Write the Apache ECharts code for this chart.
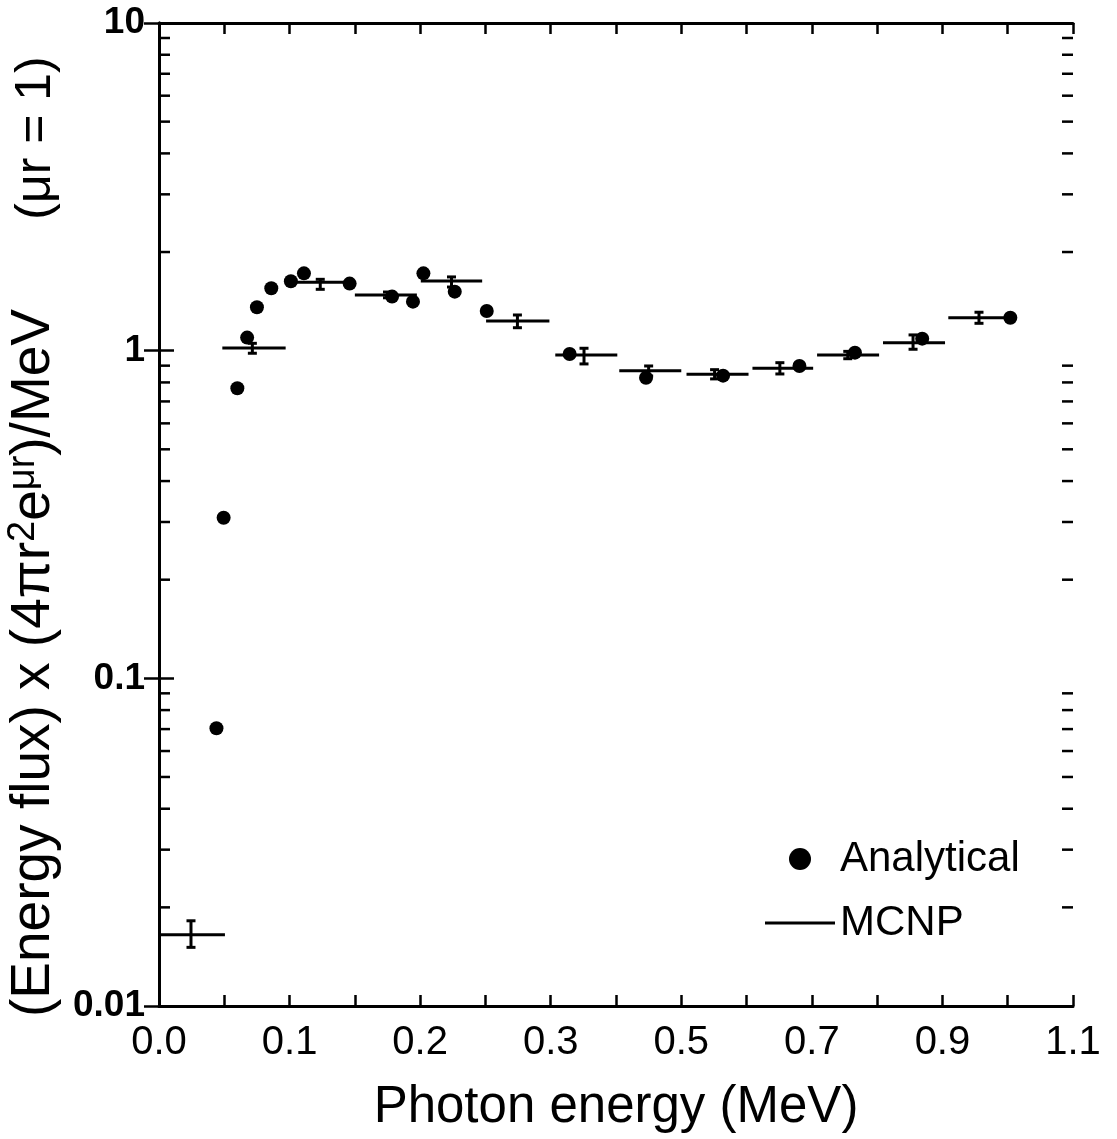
<!DOCTYPE html>
<html>
<head>
<meta charset="utf-8">
<script src="https://cdn.jsdelivr.net/npm/echarts@6/dist/echarts.min.js"></script>
<style>
    html, body { margin: 0; padding: 0; background: #fff; }
    #chart { width: 1117px; height: 1139px; }
</style>
</head>
<body>
<div id="chart"></div>
<script>
// x is in axis units: one tick = 0.1, labels every 2 ticks (as printed on the figure)
var xTickLabels = ['0.0', '0.1', '0.2', '0.3', '0.5', '0.7', '0.9', '1.1'];
var yTickLabels = ['0.01', '0.1', '1', '10'];
var yMinorMult = [2, 3, 4, 5, 6, 7, 8, 9];
var yDecades = [0.01, 0.1, 1];

// Analytical (dots)
var anaX = [0.088, 0.099, 0.120, 0.135, 0.150, 0.172, 0.202, 0.222, 0.292, 0.357, 0.389,
            0.405, 0.453, 0.502, 0.629, 0.746, 0.864, 0.981, 1.066, 1.169, 1.304];
var anaY = [0.0704, 0.309, 0.768, 1.096, 1.357, 1.55, 1.628, 1.722, 1.602, 1.462, 1.411,
            1.722, 1.514, 1.322, 0.977, 0.827, 0.839, 0.898, 0.986, 1.088, 1.26];

// MCNP (bins with error bars)
var binLo = [0.000, 0.097, 0.210, 0.300, 0.401, 0.501, 0.607, 0.705, 0.808, 0.909, 1.008, 1.109, 1.209];
var binHi = [0.101, 0.194, 0.295, 0.395, 0.495, 0.598, 0.702, 0.800, 0.903, 1.002, 1.103, 1.204, 1.301];
var mcnpY = [0.0165, 1.019, 1.617, 1.479, 1.632, 1.232, 0.970, 0.869, 0.847, 0.884, 0.970, 1.058, 1.261];
var errX  = [0.049, 0.143, 0.247, 0.350, 0.448, 0.549, 0.651, 0.750, 0.851, 0.951, 1.055, 1.155, 1.256];
var errLo = [0.0151, 0.982, 1.539, 1.45, 1.564, 1.175, 0.911, 0.837, 0.82, 0.849, 0.945, 1.010, 1.212];
var errHi = [0.0182, 1.053, 1.651, 1.51, 1.679, 1.285, 1.017, 0.898, 0.875, 0.919, 0.995, 1.117, 1.310];

var X_MIN = 0, X_MAX = 1.4;
var FONT = 'Liberation Sans';

var anaData = anaX.map(function (x, i) { return [x, anaY[i]]; });

// horizontal bin lines, broken between bins
var mcnpLine = [];
binLo.forEach(function (lo, i) {
    mcnpLine.push([lo, mcnpY[i]]);
    mcnpLine.push([binHi[i], mcnpY[i]]);
    mcnpLine.push([binHi[i], '-']);
});
var errData = errX.map(function (x, i) { return [x, errLo[i], errHi[i]]; });

var minorTickData = [];
yDecades.forEach(function (d) {
    yMinorMult.forEach(function (m) { minorTickData.push([X_MIN, d * m]); });
});

var myChart = echarts.init(document.getElementById('chart'));

var xAxisBase = {
    type: 'value',
    min: X_MIN,
    max: X_MAX,
    interval: 0.2,
    splitLine: { show: false },
    axisLine: { show: true, onZero: false, lineStyle: { color: '#000', width: 3 } },
    axisTick: { show: true, inside: true, length: 11, lineStyle: { color: '#000', width: 2.5 } },
    minorTick: { show: true, splitNumber: 2, length: 11, lineStyle: { color: '#000', width: 2.5 } }
};

var yAxisBase = {
    type: 'log',
    logBase: 10,
    min: 0.01,
    max: 10,
    splitLine: { show: false },
    axisLine: { show: true, lineStyle: { color: '#000', width: 3 } },
    axisTick: { show: true, inside: true, length: 15, lineStyle: { color: '#000', width: 2.5 } }
};

var option = {
    animation: false,
    backgroundColor: '#fff',
    grid: { left: 159, right: 44, top: 23, bottom: 133, containLabel: false, outerBoundsMode: 'none' },
    xAxis: [
        Object.assign({}, xAxisBase, {
            position: 'bottom',
            name: 'Photon energy (MeV)',
            nameLocation: 'middle',
            nameGap: 76,
            nameTextStyle: { fontFamily: FONT, fontSize: 51, color: '#000' },
            axisLabel: {
                margin: 17,
                fontFamily: FONT,
                fontSize: 40,
                color: '#000',
                showMinLabel: true,
                showMaxLabel: true,
                formatter: function (v) {
                    var k = Math.round(v / 0.2);
                    return xTickLabels[k] !== undefined ? xTickLabels[k] : '';
                }
            }
        }),
        Object.assign({}, xAxisBase, { position: 'top', axisLabel: { show: false } })
    ],
    yAxis: [
        Object.assign({}, yAxisBase, {
            position: 'left',
            axisLabel: {
                margin: 14,
                fontFamily: FONT,
                fontWeight: 'bold',
                fontSize: 37,
                color: '#000',
                showMinLabel: true,
                showMaxLabel: true,
                formatter: function (v) {
                    var k = Math.round(Math.log(v) / Math.LN10) + 2;
                    return yTickLabels[k] || '';
                }
            }
        }),
        Object.assign({}, yAxisBase, { position: 'right', axisLabel: { show: false } })
    ],
    legend: {
        data: [
            { name: 'Analytical', icon: 'circle' },
            { name: 'MCNP', icon: 'path://M0,0 M0,9.5 L70,9.5 L70,12.5 L0,12.5 Z M70,22' }
        ],
        orient: 'vertical',
        left: 760,
        top: 832,
        itemWidth: 70,
        itemHeight: 22,
        itemGap: 20,
        selectedMode: false,
        textStyle: { fontFamily: FONT, fontSize: 42, color: '#000', lineHeight: 44 }
    },
    graphic: [
        {
            type: 'text',
            x: 34,
            y: 663,
            rotation: Math.PI / 2,
            style: {
                text: '(Energy flux) x (4πr{sup|2}e{sup|μr})/MeV',
                fontFamily: FONT,
                fontSize: 55,
                fill: '#000',
                align: 'center',
                verticalAlign: 'middle',
                textAlign: 'center',
                textVerticalAlign: 'middle',
                rich: {
                    sup: { fontFamily: FONT, fontSize: 38, verticalAlign: 'top', padding: [0, 0, 20, 0] }
                }
            }
        },
        {
            type: 'text',
            x: 36,
            y: 138,
            rotation: Math.PI / 2,
            style: {
                text: '(μr = 1)',
                fontFamily: FONT,
                fontSize: 50,
                fill: '#000',
                align: 'center',
                verticalAlign: 'middle',
                textAlign: 'center',
                textVerticalAlign: 'middle'
            }
        }
    ],
    series: [
        {
            name: 'Analytical',
            type: 'scatter',
            data: anaData,
            symbol: 'circle',
            symbolSize: 14,
            itemStyle: { color: '#000', opacity: 1 },
            z: 5
        },
        {
            name: 'MCNP',
            type: 'line',
            data: mcnpLine,
            symbol: 'none',
            connectNulls: false,
            lineStyle: { color: '#000', width: 3 },
            itemStyle: { color: '#000' },
            z: 4
        },
        {
            // error bars of the MCNP bins
            name: 'MCNP error',
            type: 'custom',
            data: errData,
            encode: { x: 0, y: [1, 2] },
            z: 4,
            renderItem: function (params, api) {
                var x = api.value(0);
                var lo = api.coord([x, api.value(1)]);
                var hi = api.coord([x, api.value(2)]);
                var w = 4.5;
                var st = { stroke: '#000', lineWidth: 3 };
                return {
                    type: 'group',
                    children: [
                        { type: 'line', shape: { x1: lo[0], y1: lo[1], x2: hi[0], y2: hi[1] }, style: st },
                        { type: 'line', shape: { x1: lo[0] - w, y1: lo[1], x2: lo[0] + w, y2: lo[1] }, style: st },
                        { type: 'line', shape: { x1: hi[0] - w, y1: hi[1], x2: hi[0] + w, y2: hi[1] }, style: st }
                    ]
                };
            }
        },
        {
            // minor ticks of the log axes (2..9 in each decade), left and right frame
            name: 'y minor ticks',
            type: 'custom',
            data: minorTickData,
            silent: true,
            clip: false,
            z: 6,
            renderItem: function (params, api) {
                var v = api.value(1);
                var pl = api.coord([X_MIN, v]);
                var pr = api.coord([X_MAX, v]);
                var st = { stroke: '#000', lineWidth: 2.5 };
                return {
                    type: 'group',
                    children: [
                        { type: 'line', shape: { x1: pl[0], y1: pl[1], x2: pl[0] + 11, y2: pl[1] }, style: st },
                        { type: 'line', shape: { x1: pr[0], y1: pr[1], x2: pr[0] - 11, y2: pr[1] }, style: st }
                    ]
                };
            }
        }
    ]
};

myChart.setOption(option);
</script>
</body>
</html>
